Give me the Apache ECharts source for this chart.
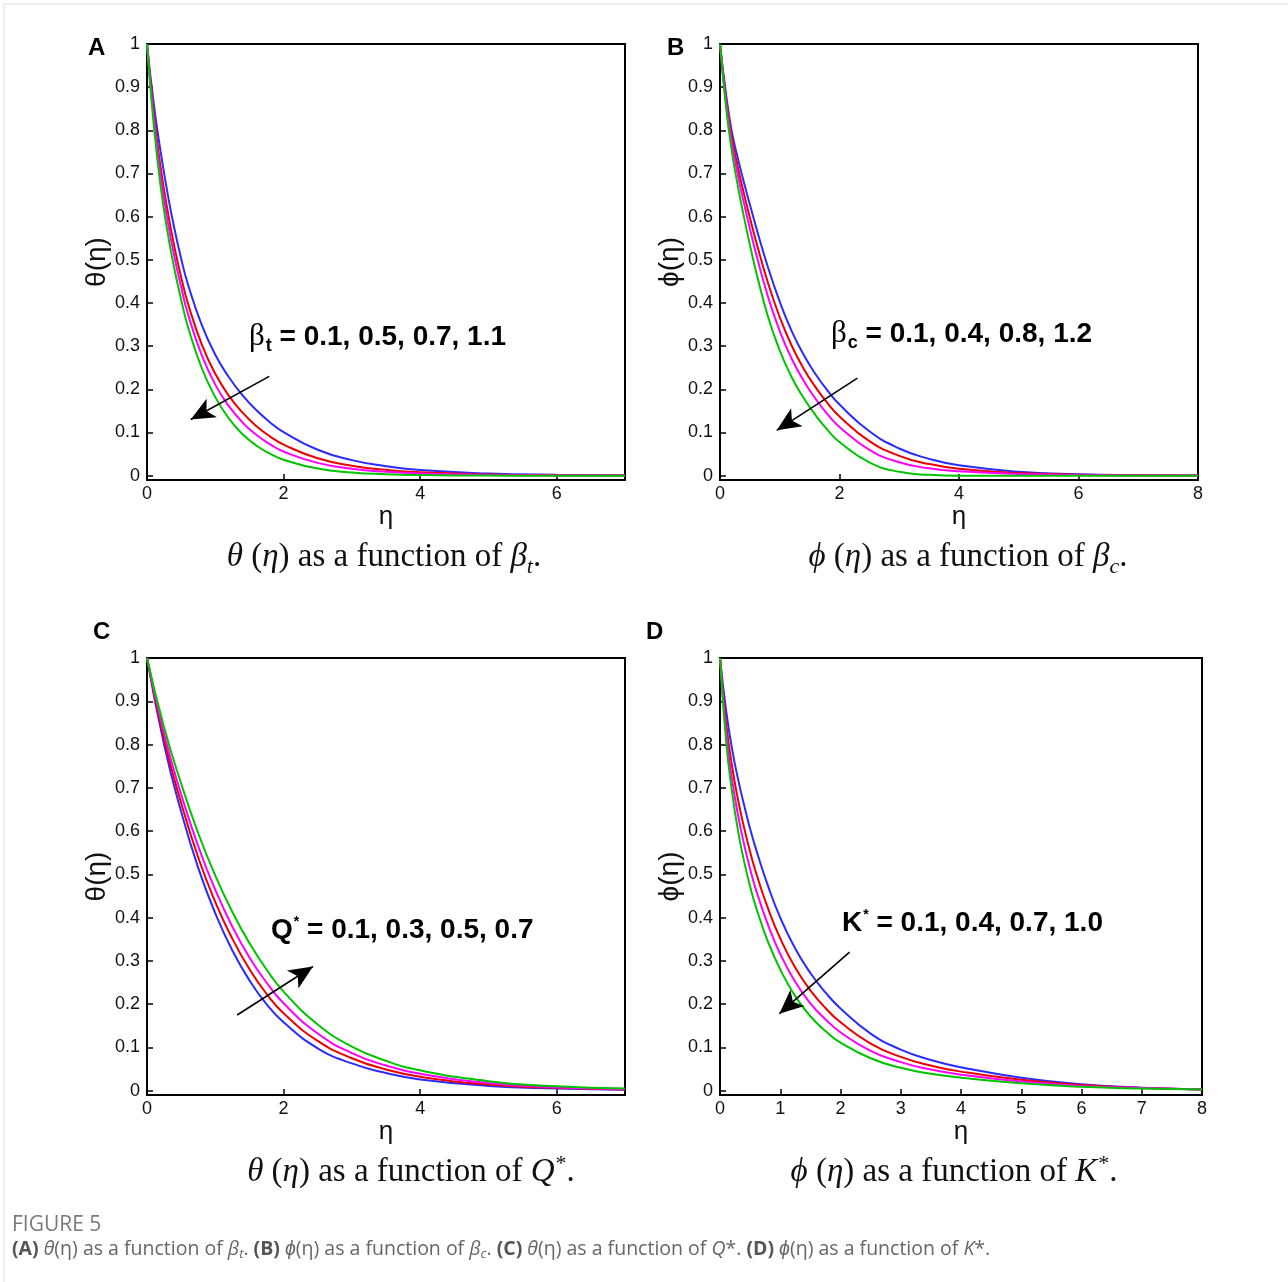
<!DOCTYPE html>
<html>
<head>
<meta charset="utf-8">
<script src="https://cdn.jsdelivr.net/npm/echarts@6/dist/echarts.min.js"></script>
<style>
  html, body { margin: 0; padding: 0; background: #fff; }
  #chart { width: 1288px; height: 1282px; }
</style>
</head>
<body>
<div id="chart"></div>
<script>
// ---- data ----
const yTicks = [0, 0.1, 0.2, 0.3, 0.4, 0.5, 0.6, 0.7, 0.8, 0.9, 1];
const xTicks7 = [0, 2, 4, 6];
const xTicks8 = [0, 2, 4, 6, 8];
const xTicksD = [0, 1, 2, 3, 4, 5, 6, 7, 8];

// (A) theta vs eta, beta_t = 0.1, 0.5, 0.7, 1.1
const etaA = [0, 0.1, 0.2, 0.3, 0.4, 0.5, 0.6, 0.8, 1.0, 1.2, 1.4, 1.6, 1.8, 2.0, 2.5, 3.0, 3.5, 4.0, 5.0, 6.0, 7.0];
const blueA = [1, 0.86, 0.75, 0.655, 0.573, 0.503, 0.443, 0.35, 0.28, 0.228, 0.186, 0.152, 0.124, 0.101, 0.06, 0.036, 0.022, 0.013, 0.005, 0.002, 0.001];
const redA = [1, 0.838, 0.714, 0.615, 0.531, 0.46, 0.399, 0.305, 0.236, 0.185, 0.146, 0.115, 0.091, 0.072, 0.0404, 0.0232, 0.0136, 0.0078, 0.0029, 0.0011, 0.0006];
const magentaA = [1, 0.825, 0.694, 0.592, 0.508, 0.437, 0.374, 0.28, 0.211, 0.161, 0.123, 0.095, 0.073, 0.056, 0.0296, 0.0161, 0.009, 0.005, 0.0017, 0.0006, 0.0003];
const greenA = [1, 0.81, 0.67, 0.565, 0.48, 0.408, 0.345, 0.25, 0.182, 0.132, 0.096, 0.07, 0.051, 0.037, 0.0165, 0.0075, 0.0034, 0.0015, 0.0003, 0, 0];

// (B) phi vs eta, beta_c = 0.1, 0.4, 0.8, 1.2
const etaB = [0, 0.1, 0.2, 0.3, 0.4, 0.5, 0.6, 0.8, 1.0, 1.2, 1.4, 1.6, 1.8, 2.0, 2.5, 3.0, 3.5, 4.0, 5.0, 6.0, 7.0, 8.0];
const blueB = [1, 0.885, 0.795, 0.735, 0.68, 0.628, 0.578, 0.484, 0.403, 0.335, 0.28, 0.235, 0.197, 0.165, 0.103, 0.063, 0.039, 0.024, 0.009, 0.0035, 0.0013, 0.0005];
const redB = [1, 0.875, 0.781, 0.714, 0.654, 0.598, 0.545, 0.448, 0.367, 0.301, 0.248, 0.205, 0.168, 0.137, 0.08, 0.046, 0.027, 0.016, 0.006, 0.0024, 0.0009, 0.0003];
const magentaB = [1, 0.867, 0.768, 0.696, 0.632, 0.572, 0.516, 0.416, 0.335, 0.271, 0.22, 0.178, 0.142, 0.113, 0.06, 0.031, 0.017, 0.01, 0.004, 0.0014, 0.0005, 0.0002];
const greenB = [1, 0.855, 0.75, 0.67, 0.6, 0.535, 0.475, 0.37, 0.29, 0.228, 0.18, 0.14, 0.106, 0.078, 0.031, 0.009, 0.002, 0, 0, 0, 0, 0];

// (C) theta vs eta, Q* = 0.1, 0.3, 0.5, 0.7
const etaC = [0, 0.25, 0.5, 0.75, 1.0, 1.25, 1.5, 1.75, 2.0, 2.5, 3.0, 3.5, 4.0, 5.0, 6.0, 7.0];
const blueC = [1, 0.8, 0.645, 0.515, 0.41, 0.324, 0.255, 0.2, 0.158, 0.098, 0.063, 0.041, 0.026, 0.011, 0.005, 0.002];
const redC = [1, 0.812, 0.665, 0.539, 0.436, 0.351, 0.281, 0.224, 0.179, 0.115, 0.075, 0.049, 0.032, 0.014, 0.0065, 0.003];
const magentaC = [1, 0.825, 0.685, 0.565, 0.464, 0.379, 0.308, 0.25, 0.202, 0.132, 0.087, 0.058, 0.039, 0.018, 0.008, 0.004];
const greenC = [1, 0.84, 0.71, 0.595, 0.497, 0.413, 0.341, 0.28, 0.229, 0.153, 0.102, 0.069, 0.047, 0.022, 0.01, 0.005];

// (D) phi vs eta, K* = 0.1, 0.4, 0.7, 1.0
const etaD = [0, 0.1, 0.2, 0.3, 0.4, 0.5, 0.6, 0.8, 1.0, 1.25, 1.5, 1.75, 2.0, 2.5, 3.0, 3.5, 4.0, 5.0, 6.0, 7.0, 8.0];
const blueD = [1, 0.88, 0.79, 0.72, 0.66, 0.605, 0.557, 0.472, 0.4, 0.328, 0.272, 0.227, 0.19, 0.132, 0.095, 0.071, 0.054, 0.03, 0.015, 0.007, 0.003];
const redD = [1, 0.852, 0.75, 0.672, 0.608, 0.552, 0.503, 0.42, 0.352, 0.284, 0.232, 0.191, 0.158, 0.109, 0.078, 0.058, 0.044, 0.025, 0.013, 0.006, 0.003];
const magentaD = [1, 0.831, 0.72, 0.636, 0.569, 0.512, 0.463, 0.382, 0.316, 0.251, 0.202, 0.165, 0.135, 0.092, 0.066, 0.049, 0.037, 0.021, 0.011, 0.006, 0.003];
const greenD = [1, 0.81, 0.69, 0.6, 0.53, 0.472, 0.423, 0.343, 0.28, 0.218, 0.172, 0.138, 0.111, 0.075, 0.053, 0.039, 0.03, 0.017, 0.009, 0.005, 0.003];

// arrows, in data units: [from, to]
const arrowA = [[1.79, 0.23], [0.64, 0.13]];
const arrowB = [[2.3, 0.226], [0.95, 0.105]];
const arrowC = [[1.32, 0.175], [2.43, 0.287]];
const arrowD = [[2.15, 0.32], [0.985, 0.178]];

// ---- chart ----
const lineColors = ["#2b2bff", "#ee0000", "#ff00ff", "#00c400"];
const sans = "Liberation Sans, Arial, sans-serif";
const serif = "Liberation Serif, Times New Roman, serif";

const panels = [
  { grid: { left: 147, top: 44, width: 478, height: 436 }, xMax: 7, xTicks: xTicks7, yName: "θ(η)",
    eta: etaA, curves: [blueA, redA, magentaA, greenA], arrow: arrowA },
  { grid: { left: 720, top: 44, width: 478, height: 436 }, xMax: 8, xTicks: xTicks8, yName: "ϕ(η)",
    eta: etaB, curves: [blueB, redB, magentaB, greenB], arrow: arrowB },
  { grid: { left: 147, top: 658, width: 478, height: 437 }, xMax: 7, xTicks: xTicks7, yName: "θ(η)",
    eta: etaC, curves: [blueC, redC, magentaC, greenC], arrow: arrowC },
  { grid: { left: 720, top: 658, width: 482, height: 437 }, xMax: 8, xTicks: xTicksD, yName: "ϕ(η)",
    eta: etaD, curves: [blueD, redD, magentaD, greenD], arrow: arrowD },
];

const grids = [], xAxes = [], yAxes = [], series = [];
panels.forEach((p, k) => {
  grids.push(Object.assign({ show: true, borderColor: "#000", borderWidth: 2, backgroundColor: "transparent" }, p.grid));
  xAxes.push({
    gridIndex: k, type: "value", min: 0, max: p.xMax,
    axisLine: { show: true, onZero: false, lineStyle: { color: "#000", width: 2 } },
    axisTick: { show: true, inside: true, length: 6, customValues: p.xTicks, lineStyle: { color: "#000", width: 1.5 } },
    axisLabel: { customValues: p.xTicks, color: "#111", fontSize: 18, fontFamily: sans, margin: 5 },
    splitLine: { show: false },
    name: "η", nameLocation: "middle", nameGap: 23,
    nameTextStyle: { color: "#111", fontSize: 26, fontFamily: sans },
  });
  yAxes.push({
    gridIndex: k, type: "value", min: -0.01, max: 1,
    axisLine: { show: true, onZero: false, lineStyle: { color: "#000", width: 2 } },
    axisTick: { show: true, inside: true, length: 6, customValues: yTicks, lineStyle: { color: "#000", width: 1.5 } },
    axisLabel: { customValues: yTicks, color: "#111", fontSize: 18, fontFamily: sans, margin: 7 },
    splitLine: { show: false },
    name: p.yName, nameLocation: "middle", nameGap: 33, nameRotate: 90,
    nameTextStyle: { color: "#111", fontSize: 28, fontFamily: sans },
  });
  p.curves.forEach((vals, i) => {
    const s = {
      type: "line", xAxisIndex: k, yAxisIndex: k,
      data: p.eta.map((e, j) => [e, vals[j]]),
      showSymbol: false, smooth: 0.5,
      lineStyle: { color: lineColors[i], width: 2 },
      z: 3,
    };
    if (i === 0) {
      s.markLine = {
        silent: true, animation: false,
        symbol: ["none", "arrow"], symbolSize: [16, 24],
        label: { show: false },
        lineStyle: { color: "#000", width: 1.6, type: "solid" },
        emphasis: { disabled: true },
        data: [[{ coord: p.arrow[0] }, { coord: p.arrow[1] }]],
      };
    }
    series.push(s);
  });
});

function annot(x, y, main, mark, rest, markKind) {
  const greek = main === "β";
  return {
    type: "text", x: x, y: y, z: 10,
    style: {
      text: "{m|" + main + "}{" + markKind + "|" + mark + "}{b|" + rest + "}",
      verticalAlign: "middle", align: "left", fill: "#000",
      rich: {
        m: { fontFamily: greek ? serif : sans, fontWeight: greek ? "normal" : "bold",
             fontSize: greek ? 31 : 28, fill: "#000", lineHeight: 36, verticalAlign: "middle" },
        sub: { fontFamily: sans, fontWeight: "bold", fontSize: 18, fill: "#000", lineHeight: 36, verticalAlign: "bottom", padding: [0, 0, 0, 1] },
        sup: { fontFamily: sans, fontWeight: "bold", fontSize: 14, fill: "#000", lineHeight: 36, verticalAlign: "top", padding: [3, 0, 0, 1] },
        b: { fontFamily: sans, fontWeight: "bold", fontSize: 28, fill: "#000", lineHeight: 36, verticalAlign: "middle" },
      },
    },
  };
}

function caption(cx, y, sym, arg, markKind) {
  return {
    type: "text", x: cx, y: y, z: 10,
    style: {
      text: "{i|" + sym + "} ({i|η}) as a function of {i|" + arg[0] + "}{" + markKind + "|" + arg[1] + "}{r|.}",
      align: "center", verticalAlign: "middle", fill: "#111",
      fontFamily: serif, fontSize: 33,
      rich: {
        i: { fontFamily: serif, fontStyle: "italic", fontSize: 33, fill: "#111", lineHeight: 42, verticalAlign: "middle" },
        r: { fontFamily: serif, fontSize: 33, fill: "#111", lineHeight: 42, verticalAlign: "middle" },
        sub: { fontFamily: serif, fontStyle: "italic", fontSize: 22, fill: "#111", lineHeight: 42, verticalAlign: "bottom" },
        sup: { fontFamily: serif, fontSize: 22, fill: "#111", lineHeight: 42, verticalAlign: "top", padding: [2, 0, 0, 1] },
      },
    },
  };
}

function letter(x, y, t) {
  return { type: "text", x: x, y: y, z: 10,
    style: { text: t, fill: "#000", font: "bold 24px " + sans, verticalAlign: "middle", align: "left" } };
}

const graphic = [
  { type: "line", shape: { x1: 4, y1: 4, x2: 1288, y2: 4 }, style: { stroke: "#dcdcdc", lineWidth: 1 } },
  { type: "line", shape: { x1: 4, y1: 4, x2: 4, y2: 1282 }, style: { stroke: "#dcdcdc", lineWidth: 1 } },
  letter(88, 48, "A"), letter(667, 48, "B"), letter(93, 632, "C"), letter(646, 632, "D"),
  annot(249, 337, "β", "t", " = 0.1, 0.5, 0.7, 1.1", "sub"),
  annot(831, 334, "β", "c", " = 0.1, 0.4, 0.8, 1.2", "sub"),
  annot(271, 930, "Q", "*", " = 0.1, 0.3, 0.5, 0.7", "sup"),
  annot(842, 923, "K", "*", " = 0.1, 0.4, 0.7, 1.0", "sup"),
  caption(384, 557, "θ", ["β", "t"], "sub"),
  caption(968, 557, "ϕ", ["β", "c"], "sub"),
  caption(411, 1172, "θ", ["Q", "*"], "sup"),
  caption(954, 1172, "ϕ", ["K", "*"], "sup"),
  { type: "text", x: 12, y: 1225, z: 10,
    style: { text: "FIGURE 5", fill: "#7a7a7a", font: "21px Open Sans, sans-serif", verticalAlign: "middle" } },
  { type: "text", x: 12, y: 1249, z: 10,
    style: {
      text: "{b|(A)} {i|θ}(η) as a function of {i|β}{s|t}. {b|(B)} {i|ϕ}(η) as a function of {i|β}{s|c}. " +
            "{b|(C)} {i|θ}(η) as a function of {i|Q}*. {b|(D)} {i|ϕ}(η) as a function of {i|K}*.",
      fill: "#666", font: "19.5px Open Sans, sans-serif", verticalAlign: "middle",
      rich: {
        b: { fontFamily: "Open Sans, sans-serif", fontWeight: "bold", fontSize: 19.5, fill: "#555", lineHeight: 24 },
        i: { fontFamily: "Open Sans, sans-serif", fontStyle: "italic", fontSize: 19.5, fill: "#666", lineHeight: 24 },
        s: { fontFamily: "Open Sans, sans-serif", fontStyle: "italic", fontSize: 13, fill: "#666", lineHeight: 24, verticalAlign: "bottom" },
      },
    } },
];

const chart = echarts.init(document.getElementById("chart"), null, { renderer: "canvas" });
chart.setOption({
  backgroundColor: "#fff",
  animation: false,
  grid: grids,
  xAxis: xAxes,
  yAxis: yAxes,
  series: series,
  graphic: graphic,
});
window.addEventListener("resize", () => chart.resize());
</script>
</body>
</html>
